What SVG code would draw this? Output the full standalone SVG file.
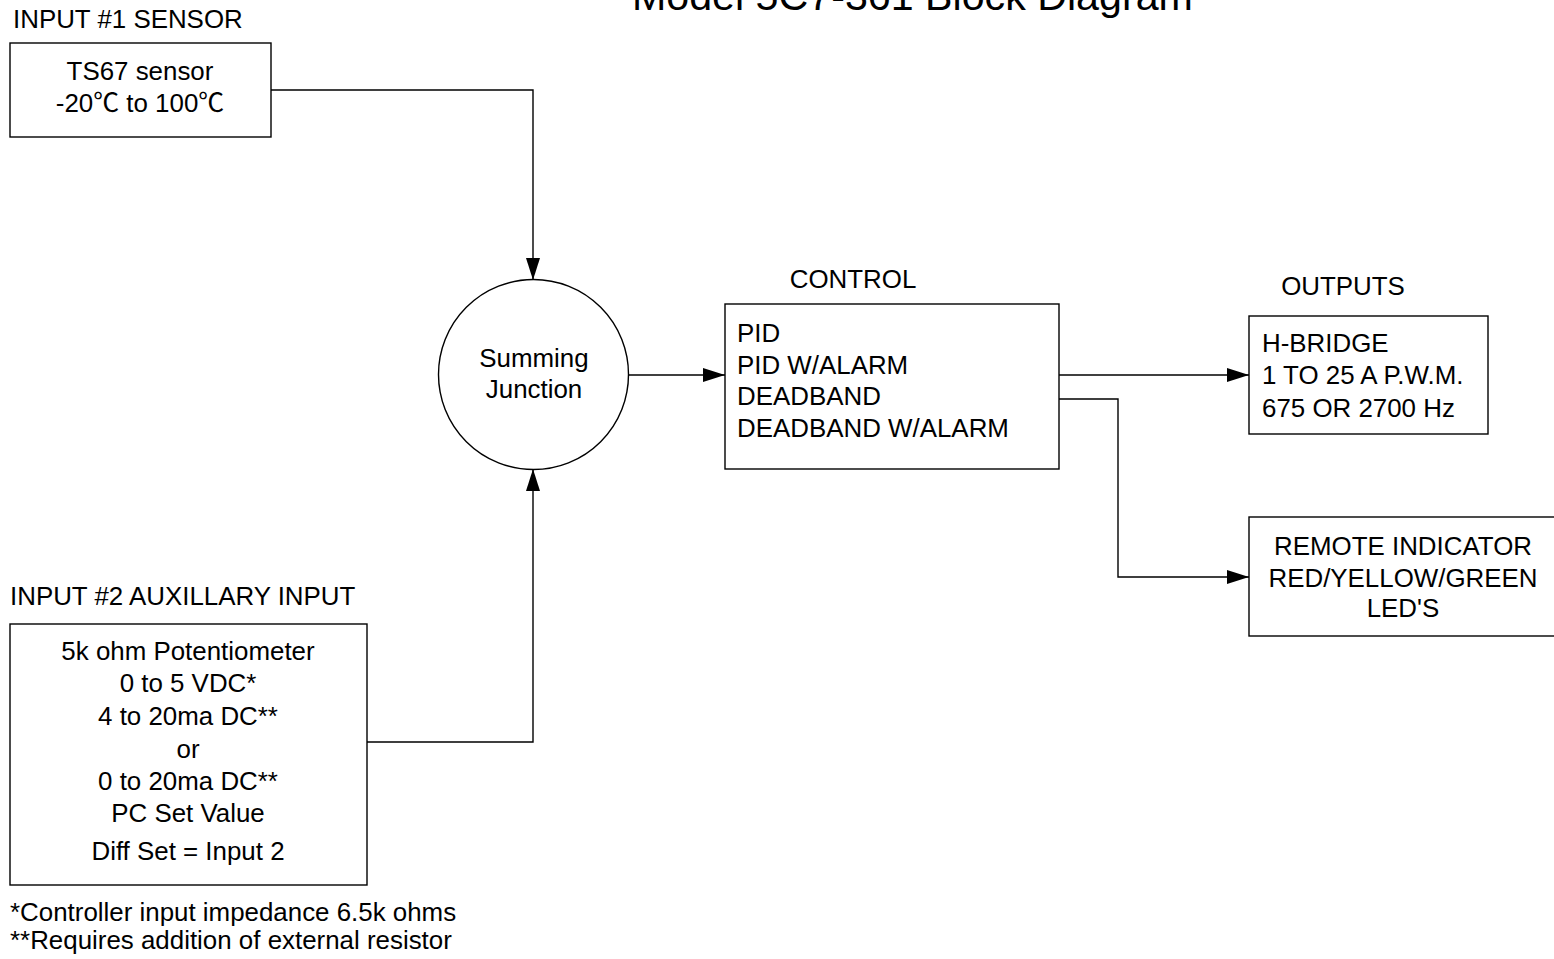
<svg xmlns="http://www.w3.org/2000/svg" width="1554" height="959" viewBox="0 0 1554 959">
<style>
text{font-family:"Liberation Sans","Noto Sans CJK SC",Arial,sans-serif;font-size:25.9px;fill:#000}
.c{text-anchor:middle}
.box{fill:#fff;stroke:#000;stroke-width:1.4}
.wire{fill:none;stroke:#000;stroke-width:1.4}
.title{font-size:41.2px}
</style>
<defs>
<marker id="arr" markerUnits="userSpaceOnUse" markerWidth="24" markerHeight="16" refX="22" refY="7" orient="auto">
<path d="M0,0 L22,7 L0,14 Z" fill="#000"/>
</marker>
</defs>
<rect width="1554" height="959" fill="#fff"/>
<text class="title" x="632" y="10">Model 5C7-361 Block Diagram</text>

<g id="connectors">
<path class="wire" d="M271,90 H533 V280" marker-end="url(#arr)"/>
<path class="wire" d="M367,742 H533 V469" marker-end="url(#arr)"/>
<path class="wire" d="M629,375 H725" marker-end="url(#arr)"/>
<path class="wire" d="M1059,375 H1249" marker-end="url(#arr)"/>
<path class="wire" d="M1059,399 H1118 V577 H1249" marker-end="url(#arr)"/>
</g>

<g id="input1">
<text x="13" y="28">INPUT #1 SENSOR</text>
<rect class="box" x="10" y="43" width="261" height="94"/>
<text class="c" x="140" y="80">TS67 sensor</text>
<text class="c" x="140" y="112">-20℃ to 100℃</text>
</g>

<g id="summing">
<circle class="box" cx="533.5" cy="374.5" r="95"/>
<text class="c" x="534" y="367">Summing</text>
<text class="c" x="534" y="398">Junction</text>
</g>

<g id="control">
<text class="c" x="853" y="288">CONTROL</text>
<rect class="box" x="725" y="304" width="334" height="165"/>
<text x="737" y="342">PID</text>
<text x="737" y="374">PID W/ALARM</text>
<text x="737" y="405">DEADBAND</text>
<text x="737" y="437">DEADBAND W/ALARM</text>
</g>

<g id="hbridge">
<text class="c" x="1343" y="295">OUTPUTS</text>
<rect class="box" x="1249" y="316" width="239" height="118"/>
<text x="1262" y="352">H-BRIDGE</text>
<text x="1262" y="384">1 TO 25 A P.W.M.</text>
<text x="1262" y="417">675 OR 2700 Hz</text>
</g>

<g id="remote">
<rect class="box" x="1249" y="517" width="308" height="119"/>
<text class="c" x="1403" y="555">REMOTE INDICATOR</text>
<text class="c" x="1403" y="587">RED/YELLOW/GREEN</text>
<text class="c" x="1403" y="617">LED'S</text>
</g>

<g id="input2">
<text x="10" y="605">INPUT #2 AUXILLARY INPUT</text>
<rect class="box" x="10" y="624" width="357" height="261"/>
<text class="c" x="188" y="660">5k ohm Potentiometer</text>
<text class="c" x="188" y="692">0 to 5 VDC*</text>
<text class="c" x="188" y="725">4 to 20ma DC**</text>
<text class="c" x="188" y="758">or</text>
<text class="c" x="188" y="790">0 to 20ma DC**</text>
<text class="c" x="188" y="822">PC Set Value</text>
<text class="c" x="188" y="860">Diff Set = Input 2</text>
</g>

<g id="notes">
<text x="10" y="921">*Controller input impedance 6.5k ohms</text>
<text x="10" y="949">**Requires addition of external resistor</text>
</g>
</svg>
